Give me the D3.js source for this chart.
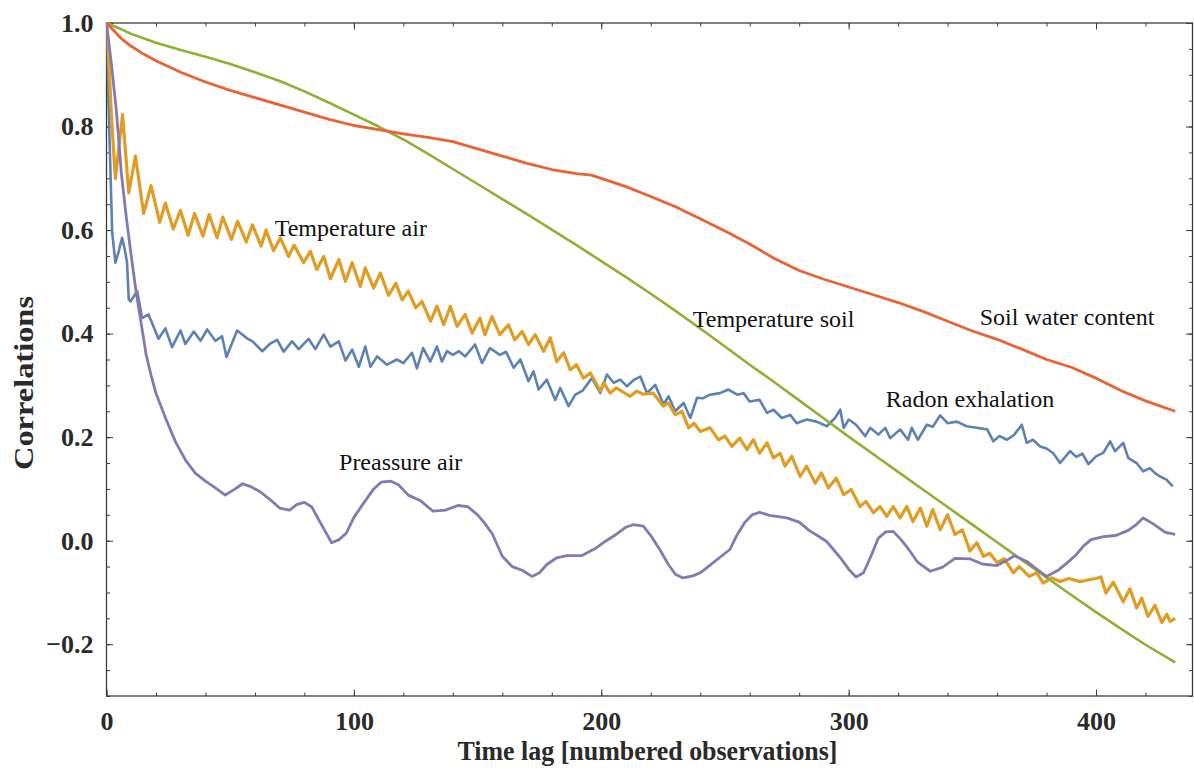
<!DOCTYPE html>
<html lang="en">
<head>
<meta charset="UTF-8">
<title>Correlations</title>
<script src="https://d3js.org/d3.v7.min.js"></script>
<style>
  body { margin: 0; background: #fff; }
  text { font-family: "Liberation Serif", "Times New Roman", serif; }
</style>
</head>
<body>
<div id="chart"></div>
<script>
// data: [lag, correlation]
const radonExhalation = [[0,1.0],[0.8,0.85],[2.3,0.595],[3.6,0.537],[5,0.56],[6.3,0.585],[7.5,0.56],[8.3,0.537],[9,0.466],[9.7,0.462],[12.4,0.482],[14.4,0.43],[17,0.437],[21,0.39],[23.8,0.41],[26.5,0.374],[29.9,0.406],[31.9,0.38],[35.3,0.404],[38,0.386],[40.7,0.408],[44,0.386],[46.7,0.395],[48.5,0.355],[52.8,0.406],[56.8,0.391],[59,0.385],[63,0.366],[66,0.38],[69,0.388],[71.6,0.365],[75,0.385],[77.7,0.37],[81.7,0.39],[84.4,0.37],[87.8,0.398],[90.5,0.375],[93.9,0.385],[96.6,0.348],[99.3,0.369],[102,0.336],[104.6,0.375],[106.7,0.336],[109.4,0.356],[113.4,0.34],[117.4,0.35],[120,0.343],[123.5,0.363],[125.5,0.333],[128,0.372],[130.9,0.346],[133.6,0.375],[135.6,0.346],[137.6,0.366],[140,0.359],[142.5,0.366],[145,0.356],[149,0.379],[151.8,0.343],[155,0.372],[159,0.359],[161.5,0.365],[164.6,0.334],[167.3,0.35],[170.6,0.308],[172.6,0.327],[174.7,0.292],[178,0.311],[181.4,0.272],[183.4,0.295],[186.8,0.26],[189.5,0.282],[192.5,0.29],[196.2,0.314],[199.6,0.285],[202.3,0.321],[205,0.305],[207.7,0.311],[210.4,0.298],[213,0.31],[215.8,0.317],[218.5,0.285],[221.8,0.301],[225.2,0.263],[227.2,0.279],[229.9,0.25],[233.3,0.266],[236,0.237],[238.7,0.276],[241,0.275],[244,0.282],[248,0.285],[251.4,0.292],[255,0.282],[257.5,0.285],[260,0.269],[264,0.272],[267,0.247],[269.6,0.253],[273,0.237],[276.4,0.243],[279,0.227],[283,0.234],[287,0.23],[291.2,0.221],[294.5,0.237],[296.6,0.253],[298,0.218],[300,0.234],[303,0.224],[306.7,0.202],[308.7,0.218],[312,0.205],[314.8,0.218],[316.8,0.198],[320.8,0.215],[324,0.195],[325.5,0.218],[328,0.195],[331.6,0.224],[334,0.22],[337,0.242],[340,0.227],[343.7,0.23],[347.7,0.221],[351.8,0.218],[356,0.215],[358.5,0.192],[361,0.202],[364,0.195],[367,0.205],[370,0.224],[372,0.189],[374.5,0.195],[377.4,0.182],[380,0.178],[382.7,0.169],[385.5,0.15],[389.5,0.173],[392,0.162],[394.5,0.168],[396.9,0.148],[400,0.163],[403,0.17],[405.7,0.192],[407.7,0.173],[411,0.189],[413,0.16],[416.4,0.15],[419,0.134],[421.8,0.14],[424,0.13],[425.9,0.124],[428.5,0.118],[431,0.105]];

const temperatureAir = [[0,1.0],[1,0.92],[2,0.82],[3.6,0.70],[5,0.76],[6.5,0.823],[9,0.672],[11.7,0.743],[15,0.632],[18,0.686],[21.5,0.615],[23.8,0.652],[27,0.602],[29.9,0.638],[33,0.59],[35.6,0.632],[39,0.588],[41.5,0.63],[44.7,0.585],[47,0.625],[50.5,0.582],[53,0.617],[56.5,0.577],[59,0.61],[62.5,0.569],[64.5,0.6],[67.5,0.56],[70.3,0.585],[73.6,0.549],[75.8,0.571],[79.7,0.537],[82.4,0.559],[85,0.524],[87.8,0.549],[90.5,0.506],[93.9,0.543],[96.6,0.501],[99.3,0.537],[102.6,0.491],[104.6,0.527],[108,0.488],[110.7,0.517],[114,0.474],[117,0.497],[119.5,0.465],[122,0.482],[125,0.45],[127.5,0.462],[131,0.424],[133.6,0.453],[136.3,0.417],[139,0.453],[141.7,0.414],[145,0.437],[147.8,0.401],[151,0.43],[153,0.398],[155.8,0.433],[159,0.398],[162.5,0.417],[165,0.388],[168,0.404],[170.6,0.379],[173.3,0.398],[176.7,0.366],[179.4,0.392],[182,0.346],[184.8,0.363],[187.5,0.33],[190,0.34],[192.8,0.314],[195.6,0.324],[199.6,0.289],[201,0.305],[203.6,0.285],[206,0.295],[211.7,0.279],[214.4,0.289],[217,0.283],[221,0.285],[225,0.26],[227,0.266],[230,0.243],[232.6,0.25],[235.3,0.218],[237.5,0.227],[240,0.211],[244,0.218],[247.4,0.195],[250,0.202],[252.8,0.182],[256,0.198],[258.9,0.176],[261.5,0.195],[264,0.169],[267,0.189],[269.6,0.16],[272.3,0.169],[274.3,0.144],[277,0.163],[280.4,0.124],[283,0.144],[286.5,0.111],[289,0.131],[291.8,0.102],[295,0.121],[298,0.089],[301,0.099],[304.6,0.066],[307,0.076],[310,0.054],[312.7,0.066],[315.4,0.047],[318,0.066],[320.8,0.044],[323.5,0.066],[326,0.037],[329,0.063],[331.6,0.028],[334,0.06],[337,0.021],[340,0.05],[343,0.012],[346,0.021],[349,-0.02],[351.8,-0.004],[354.5,-0.03],[357,-0.024],[360,-0.042],[363,-0.035],[366.6,-0.062],[369,-0.05],[373,-0.069],[376,-0.062],[378.7,-0.082],[382,-0.072],[385.5,-0.079],[389,-0.073],[393.5,-0.079],[397.6,-0.075],[400,-0.073],[402,-0.07],[404,-0.101],[407,-0.08],[411,-0.118],[413.7,-0.093],[416.4,-0.13],[418.5,-0.111],[421,-0.146],[423.8,-0.125],[426.6,-0.158],[428.6,-0.142],[430,-0.156],[432,-0.15]];

const temperatureSoil = [[0,1.0],[5,0.99],[10,0.979],[20,0.962],[30,0.948],[40,0.935],[50,0.921],[60,0.905],[70,0.888],[80,0.868],[90,0.846],[100,0.823],[110,0.8],[120,0.775],[130,0.747],[140,0.718],[150,0.689],[160,0.66],[170,0.631],[180,0.601],[190,0.571],[200,0.54],[210,0.509],[220,0.477],[230,0.444],[240,0.41],[250,0.375],[260,0.34],[270,0.306],[280,0.271],[290,0.236],[300,0.201],[310,0.167],[320,0.133],[330,0.099],[340,0.065],[350,0.031],[360,-0.003],[370,-0.037],[380,-0.071],[390,-0.105],[400,-0.138],[410,-0.17],[420,-0.201],[432,-0.235]];

const soilWaterContent = [[0,1.0],[3,0.985],[6,0.97],[10,0.955],[15,0.94],[20,0.927],[30,0.905],[40,0.886],[50,0.87],[60,0.856],[70,0.842],[80,0.828],[90,0.814],[100,0.802],[110,0.794],[120,0.786],[130,0.779],[140,0.771],[150,0.757],[160,0.743],[170,0.729],[180,0.717],[190,0.709],[196,0.706],[200,0.7],[210,0.684],[220,0.665],[230,0.645],[240,0.622],[250,0.598],[260,0.573],[270,0.545],[280,0.522],[290,0.505],[300,0.49],[310,0.475],[320,0.46],[330,0.443],[340,0.424],[350,0.405],[360,0.389],[370,0.37],[380,0.35],[390,0.335],[400,0.314],[410,0.29],[420,0.27],[432,0.25]];

const pressureAir = [[0,1.0],[2,0.92],[4,0.83],[6,0.71],[8,0.625],[10,0.55],[12,0.48],[14,0.42],[16,0.36],[18,0.32],[20,0.285],[24,0.235],[28,0.19],[32,0.155],[36,0.13],[40,0.115],[44,0.102],[48,0.088],[52,0.1],[55,0.11],[58,0.105],[62,0.095],[66,0.08],[70,0.063],[74,0.059],[77,0.07],[80,0.074],[83,0.065],[87,0.03],[91,-0.004],[94,0.002],[97,0.015],[100,0.045],[104,0.073],[108,0.1],[111,0.113],[115,0.115],[118,0.108],[122,0.088],[127,0.077],[132,0.057],[137,0.059],[142,0.068],[146,0.066],[150,0.05],[153,0.033],[156,0.013],[160,-0.03],[164,-0.05],[168,-0.057],[172,-0.069],[175,-0.062],[178,-0.046],[182,-0.033],[186,-0.029],[192,-0.029],[198,-0.014],[202,0.0],[206,0.012],[210,0.026],[213,0.031],[217,0.028],[220,0.01],[224,-0.02],[227,-0.045],[230,-0.065],[233,-0.072],[237,-0.068],[240,-0.062],[244,-0.047],[248,-0.032],[252,-0.017],[255,0.012],[258,0.035],[261,0.05],[264,0.055],[268,0.049],[275,0.044],[280,0.036],[284,0.02],[288,0.008],[291,-0.001],[294,-0.018],[297,-0.035],[300,-0.055],[303,-0.07],[306,-0.062],[309,-0.03],[312,0.005],[315,0.017],[318,0.018],[321,0.003],[324,-0.015],[328,-0.042],[333,-0.059],[338,-0.051],[343,-0.034],[349,-0.035],[354,-0.045],[360,-0.048],[364,-0.038],[367,-0.029],[372,-0.04],[376,-0.055],[380,-0.069],[385,-0.056],[389,-0.04],[392,-0.027],[395,-0.01],[398,0.002],[403,0.008],[408,0.01],[413,0.02],[416,0.03],[419,0.044],[423,0.033],[428,0.016],[432,0.012]];

const seriesNames = ["Radon exhalation", "Temperature air", "Temperature soil", "Soil water content", "Preassure air"];
const xMajorTicks = [0, 100, 200, 300, 400];
const yMajorTicks = [-0.2, 0.0, 0.2, 0.4, 0.6, 0.8, 1.0];

const w = 1194, h = 774;
const mLeft = 106.5, mRight = 1192.5, mTop = 23, mBottom = 696;

const svg = d3.select("#chart").append("svg")
    .attr("width", w).attr("height", h);

const xScale = d3.scaleLinear().domain([0, 439]).range([mLeft, mRight]);
const yScale = d3.scaleLinear().domain([-0.3, 1.0]).range([mBottom, mTop]);

const xMinor = d3.range(0, 440, 20);
const yMinor = d3.range(-0.3, 1.0001, 0.05);

const fmt = d => (d < 0 ? "\u2212" : "") + Math.abs(d).toFixed(1);
const frameColor = "#3c3c3c";

function tickAxis(axis, tr) {
    const g = svg.append("g").attr("transform", tr).call(axis);
    g.select(".domain").remove();
    g.selectAll("line").attr("stroke", frameColor).attr("stroke-width", 1);
    return g;
}

// minor ticks, all four sides, pointing inward
tickAxis(d3.axisBottom(xScale).tickValues(xMinor).tickSize(-3.5).tickFormat(""), `translate(0,${mBottom})`);
tickAxis(d3.axisTop(xScale).tickValues(xMinor).tickSize(-3.5).tickFormat(""), `translate(0,${mTop})`);
tickAxis(d3.axisLeft(yScale).tickValues(yMinor).tickSize(-3.5).tickFormat(""), `translate(${mLeft},0)`);
tickAxis(d3.axisRight(yScale).tickValues(yMinor).tickSize(-3.5).tickFormat(""), `translate(${mRight},0)`);

// major ticks with labels
const xAxisG = tickAxis(d3.axisBottom(xScale).tickValues(xMajorTicks).tickSizeInner(-6.5).tickSizeOuter(0).tickPadding(15).tickFormat(d3.format("d")), `translate(0,${mBottom})`);
tickAxis(d3.axisTop(xScale).tickValues(xMajorTicks).tickSize(-6.5).tickFormat(""), `translate(0,${mTop})`);
const yAxisG = tickAxis(d3.axisLeft(yScale).tickValues(yMajorTicks).tickSizeInner(-6.5).tickSizeOuter(0).tickPadding(13).tickFormat(fmt), `translate(${mLeft},0)`);
tickAxis(d3.axisRight(yScale).tickValues(yMajorTicks).tickSize(-6.5).tickFormat(""), `translate(${mRight},0)`);

[xAxisG, yAxisG].forEach(g => g.selectAll("text")
    .style("font-family", "'Liberation Serif', serif")
    .style("font-size", "26px")
    .style("font-weight", "bold")
    .attr("fill", "#2a2a2a"));
xAxisG.selectAll("text").attr("dy", "0.72em");

// frame
svg.append("rect")
    .attr("x", mLeft).attr("y", mTop)
    .attr("width", mRight - mLeft).attr("height", mBottom - mTop)
    .attr("fill", "none").attr("stroke", frameColor).attr("stroke-width", 1.3);

svg.append("clipPath").attr("id", "plotClip").append("rect")
    .attr("x", mLeft).attr("y", mTop - 2).attr("width", mRight - mLeft).attr("height", mBottom - mTop + 2);

const line = d3.line().x(d => xScale(d[0])).y(d => yScale(d[1]));

const series = [
    { data: radonExhalation, color: "#5e81b5", width: 2.6 },
    { data: temperatureAir, color: "#e19c24", width: 3.2 },
    { data: temperatureSoil, color: "#8fb032", width: 2.6 },
    { data: soilWaterContent, color: "#eb6235", width: 2.8 },
    { data: pressureAir, color: "#8778b3", width: 2.8 }
];

svg.append("g").attr("clip-path", "url(#plotClip)")
    .selectAll("path")
    .data(series)
    .enter()
    .append("path")
    .attr("d", d => line(d.data))
    .attr("fill", "none")
    .attr("stroke", d => d.color)
    .attr("stroke-width", d => d.width)
    .attr("stroke-linejoin", "round");

// series labels placed in data coordinates
const labelPos = [[315, 0.259], [68, 0.589], [237, 0.412], [353, 0.416], [94, 0.137]];
svg.append("g").selectAll("text")
    .data(seriesNames)
    .enter()
    .append("text")
    .attr("x", (d, i) => xScale(labelPos[i][0]))
    .attr("y", (d, i) => yScale(labelPos[i][1]))
    .attr("font-size", 24)
    .attr("fill", "#111")
    .text(d => d);

// axis titles
svg.append("text")
    .attr("x", (mLeft + mRight) / 2 - 2).attr("y", 760)
    .attr("text-anchor", "middle")
    .attr("font-size", 28).attr("font-weight", "bold").attr("fill", "#2a2a2a")
    .attr("textLength", 380).attr("lengthAdjust", "spacingAndGlyphs")
    .text("Time lag [numbered observations]");

svg.append("text")
    .attr("transform", "translate(33,383) rotate(-90)")
    .attr("text-anchor", "middle")
    .attr("font-size", 28).attr("font-weight", "bold").attr("fill", "#2a2a2a")
    .attr("textLength", 174).attr("lengthAdjust", "spacingAndGlyphs")
    .text("Correlations");
</script>
</body>
</html>
